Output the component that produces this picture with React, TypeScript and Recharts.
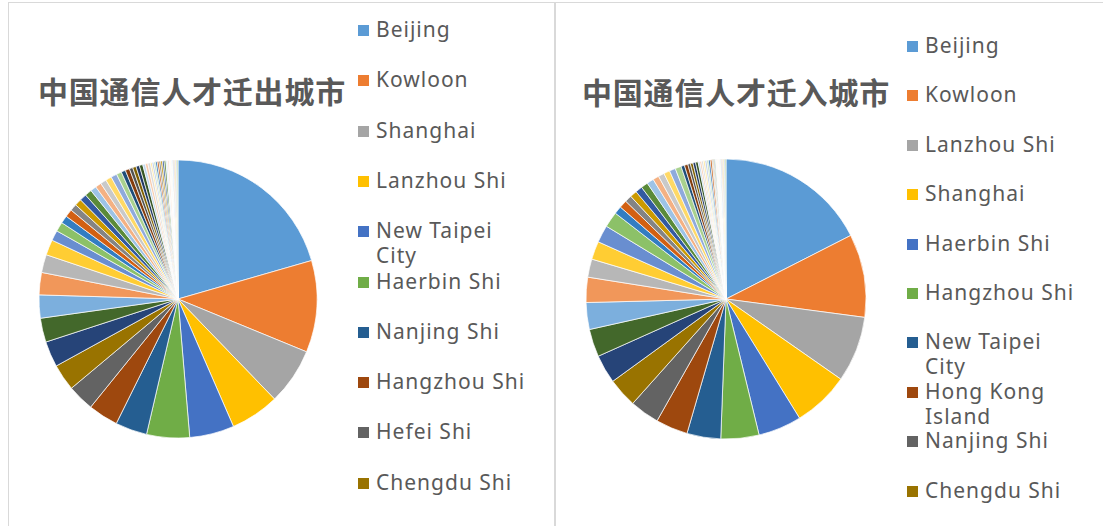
import { PieChart, Pie, Cell, Legend } from "recharts";

// Excel-style colour cycle (accents, then darker / lighter shades)
const COLORS = [
  "#5B9BD5", "#ED7D31", "#A5A5A5", "#FFC000", "#4472C4", "#70AD47",
  "#255E91", "#9E480E", "#636363", "#997300", "#264478", "#43682B",
  "#7CAFDD", "#F1975A", "#B7B7B7", "#FFCD33", "#698ED0", "#8CC168",
  "#327DC2", "#D26012", "#848484", "#CC9A00", "#335AA1", "#5A8A39",
  "#9DC3E6", "#F4B183", "#C9C9C9", "#FFD966", "#8FAADC", "#A9D18E",
  "#1E4E79", "#843C0C", "#525252", "#7F6000", "#203864", "#375623",
  "#BDD7EE", "#F8CBAD", "#DBDBDB", "#FFE699", "#B4C7E7", "#C5E0B4",
  "#2E75B6", "#C55A11", "#7B7B7B", "#BF9000", "#2F5597", "#548235",
  "#DEEBF7", "#FBE5D6", "#EDEDED", "#FFF2CC", "#DAE3F3", "#E2F0D9",
  "#6FA8DC", "#F09858", "#9A9A9A", "#E6B800", "#5B80C8", "#7FB85A",
];

const OUT_TITLE = "中国通信人才迁出城市";
const IN_TITLE = "中国通信人才迁入城市";

const OUT_TOP = [
  "Beijing", "Kowloon", "Shanghai", "Lanzhou Shi", "New Taipei City",
  "Haerbin Shi", "Nanjing Shi", "Hangzhou Shi", "Hefei Shi", "Chengdu Shi",
];
const IN_TOP = [
  "Beijing", "Kowloon", "Lanzhou Shi", "Shanghai", "Haerbin Shi",
  "Hangzhou Shi", "New Taipei City", "Hong Kong Island", "Nanjing Shi", "Chengdu Shi",
];

// cities beyond the legend (not shown, only slices)
const OTHER_CITIES = [
  "Shenzhen Shi", "Wuhan Shi", "Xi'an Shi", "Guangzhou Shi", "Taipei City",
  "Chongqing", "Tianjin", "Changsha Shi", "Jinan Shi", "Shenyang Shi",
  "Suzhou Shi", "Zhengzhou Shi", "Fuzhou Shi", "Kunming Shi", "Changchun Shi",
  "Qingdao Shi", "Dalian Shi", "Xiamen Shi", "Nanning Shi", "Guiyang Shi",
  "Taiyuan Shi", "Shijiazhuang Shi", "Nanchang Shi", "Urumqi Shi", "Hohhot Shi",
  "Yinchuan Shi", "Xining Shi", "Haikou Shi", "Lhasa", "Wuxi Shi",
  "Ningbo Shi", "Dongguan Shi", "Foshan Shi", "Changzhou Shi", "Wenzhou Shi",
  "Xuzhou Shi", "Tangshan Shi", "Baoding Shi", "Luoyang Shi", "Yantai Shi",
  "Weifang Shi", "Zibo Shi", "Mianyang Shi", "Zhuhai Shi", "Shantou Shi",
  "Quanzhou Shi", "Jilin Shi", "Daqing Shi", "Anshan Shi",
];

const OUT_VALUES = [
  206, 107, 66, 57, 52, 50, 37, 35, 31, 31,
  30, 28, 27, 26, 21, 18, 12, 11, 9, 9,
  8, 8, 8, 8, 7, 7, 7, 7, 7, 6,
  5, 5, 4, 4, 4, 4, 3, 3, 3, 2,
  2, 2, 2, 2, 2, 2, 2, 2, 2, 2,
  1, 1, 1, 1, 1, 1, 1, 1, 1, 1,
];
const IN_VALUES = [
  175, 96, 76, 65, 50, 44, 39, 37, 34, 34,
  33, 32, 31, 29, 21, 21, 20, 18, 9, 9,
  8, 8, 8, 8, 8, 7, 7, 7, 7, 7,
  4, 4, 3, 3, 3, 3, 2, 2, 2, 2,
  2, 2, 2, 2, 1, 1, 1, 1, 1, 1,
  1, 1, 1, 1, 1, 1, 1, 1, 1, 1,
];

const OUT_NAMES = [...OUT_TOP, "Hong Kong Island", ...OTHER_CITIES];
const IN_NAMES = [...IN_TOP, "Hefei Shi", ...OTHER_CITIES];

const outData = OUT_VALUES.map((v, i) => ({ name: OUT_NAMES[i], value: v, fill: COLORS[i % COLORS.length] }));
const inData = IN_VALUES.map((v, i) => ({ name: IN_NAMES[i], value: v, fill: COLORS[i % COLORS.length] }));

const TEXT = "#595959";

function CityLegend({ payload, names, firstRow, rowGap }: any) {
  // the legend sorts entries by name; put them back in slice order
  const items = (payload ?? [])
    .slice()
    .sort((a: any, b: any) => names.indexOf(a.value) - names.indexOf(b.value))
    .slice(0, 10);
  return (
    <div style={{ position: "relative", width: 190, height: 520 }}>
      {items.map((p: any, i: number) => (
        <div
          key={i}
          style={{
            position: "absolute",
            left: 0,
            top: firstRow + rowGap * i - 13,
            display: "flex",
            alignItems: "flex-start",
          }}
        >
          <span
            style={{
              display: "inline-block",
              flex: "none",
              width: 11,
              height: 11,
              background: p.color ?? COLORS[i],
              marginTop: 8,
              marginRight: 7,
            }}
          />
          <span
            style={{
              width: 158,
              fontSize: 21,
              lineHeight: "25px",
              letterSpacing: 1,
              color: TEXT,
              fontFamily: "'Noto Sans', sans-serif",
            }}
          >
            {p.value}
          </span>
        </div>
      ))}
    </div>
  );
}

interface PanelProps {
  title: string;
  data: { name: string; value: number; fill: string }[];
  names: string[];
  left: number;
  width: number;
  titleX: number;
  titleY: number;
  legendX: number;
  firstRow: number;
  rowGap: number;
  cx: number;
  cy: number;
  r: number;
}

function PiePanel(p: PanelProps) {
  return (
    <div
      style={{
        position: "absolute",
        left: p.left,
        top: 2,
        width: p.width,
        height: 540,
        border: "1px solid #D9D9D9",
        boxSizing: "border-box",
        background: "#fff",
      }}
    >
      <div
        style={{
          position: "absolute",
          left: p.titleX,
          top: p.titleY - 15,
          fontSize: 30,
          lineHeight: "30px",
          fontWeight: 700,
          letterSpacing: 0.8,
          color: TEXT,
          fontFamily: "'Noto Sans CJK SC', sans-serif",
          whiteSpace: "nowrap",
        }}
      >
        {p.title}
      </div>
      <PieChart width={p.width - 2} height={520} margin={{ top: 0, right: 0, bottom: 0, left: 0 }}>
        <Pie
          data={p.data}
          dataKey="value"
          nameKey="name"
          cx={p.cx}
          cy={p.cy}
          outerRadius={p.r}
          startAngle={90}
          endAngle={-270}
          stroke="#ffffff"
          strokeWidth={0.7}
          isAnimationActive={false}
        >
          {p.data.map((d, i) => (
            <Cell key={i} fill={d.fill} />
          ))}
        </Pie>
        <Legend
          layout="vertical"
          wrapperStyle={{ position: "absolute", left: p.legendX, top: 0, width: 190, height: 520 }}
          content={(props: any) => (
            <CityLegend {...props} names={p.names} firstRow={p.firstRow} rowGap={p.rowGap} />
          )}
        />
      </PieChart>
    </div>
  );
}

export default function App() {
  return (
    <div style={{ position: "absolute", left: 0, top: 0, width: 1103, height: 526, overflow: "hidden", background: "#fff" }}>
      <PiePanel
        title={OUT_TITLE}
        data={outData}
        names={OUT_NAMES}
        left={8}
        width={547}
        titleX={29}
        titleY={87}
        legendX={349}
        firstRow={27}
        rowGap={50.3}
        cx={169}
        cy={296}
        r={139}
      />
      <PiePanel
        title={IN_TITLE}
        data={inData}
        names={IN_NAMES}
        left={555}
        width={560}
        titleX={26}
        titleY={88}
        legendX={351}
        firstRow={43}
        rowGap={49.4}
        cx={170}
        cy={296}
        r={140}
      />
    </div>
  );
}
